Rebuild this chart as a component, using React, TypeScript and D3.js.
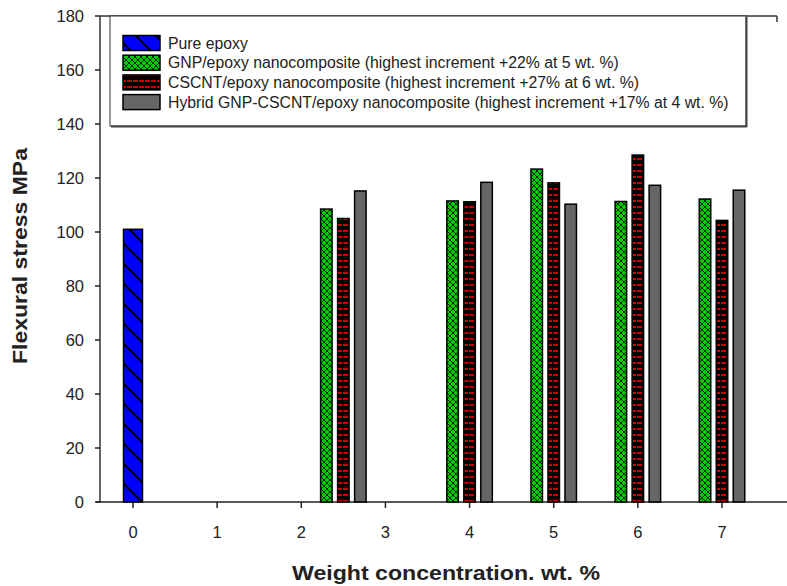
import React from "react";
import * as d3 from "d3";

const seriesNames = [
  "Pure epoxy",
  "GNP/epoxy nanocomposite (highest increment +22% at 5 wt. %)",
  "CSCNT/epoxy nanocomposite (highest increment +27% at 6 wt. %)",
  "Hybrid GNP-CSCNT/epoxy nanocomposite (highest increment +17% at 4 wt. %)",
];
const pureX = [0];
const pureValues = [101];
const groupX = [2.5, 4, 5, 6, 7];
const gnpValues = [108.5, 111.5, 123.3, 111.3, 112.2];
const cscntValues = [105, 111.2, 118.2, 128.5, 104.3];
const hybridValues = [115.2, 118.4, 110.3, 117.3, 115.5];
const xTicks = [0, 1, 2, 3, 4, 5, 6, 7];
const yTicks = [0, 20, 40, 60, 80, 100, 120, 140, 160, 180];

const W = 787;
const H = 586;
const left = 100;
const right = 777;
const top = 16;
const bottom = 502;

export default function App() {
  const x = d3.scaleLinear().domain([0, 7]).range([133, 722]);
  const y = d3.scaleLinear().domain([0, 180]).range([bottom, top]);
  const fills = ["url(#pBlue)", "url(#pGreen)", "url(#pRed)", "#666666"];
  const groupSeries = [gnpValues, cscntValues, hybridValues];
  const barW = 11.5;
  const offset = 17;
  const textColor = "#222";
  const font = "Arial, 'Liberation Sans', sans-serif";

  return (
    <svg width={W} height={H} style={{ position: "absolute", left: 0, top: 0, background: "#fff" }}>
      <defs>
        <pattern id="pBlue" patternUnits="userSpaceOnUse" width="20" height="20">
          <rect width="20" height="20" fill="#0000ff" />
          <path d="M-2,-2 L22,22 M-22,-2 L2,22 M18,-2 L42,22" stroke="#000" strokeWidth="2.2" />
        </pattern>
        <pattern id="pGreen" patternUnits="userSpaceOnUse" width="6" height="6">
          <rect width="6" height="6" fill="#00cc00" />
          <path d="M0,0 L3,3 L6,0 M0,6 L3,3 L6,6" stroke="#000" strokeWidth="1" fill="none" opacity="0.8" />
        </pattern>
        <pattern id="pRed" patternUnits="userSpaceOnUse" width="6" height="6">
          <rect width="6" height="6" fill="#000" />
          <rect x="1" y="2" width="5" height="2" fill="#cc0000" />
        </pattern>
      </defs>

      {/* frame */}
      <line x1={left} x2={right} y1={top} y2={top} stroke="#333" strokeWidth={1.5} />
      <line x1={right} x2={right} y1={top} y2={top + 6} stroke="#333" strokeWidth={1.5} />
      <line x1={left} x2={left} y1={top} y2={bottom} stroke="#333" strokeWidth={1.5} />
      <line x1={96} x2={W} y1={bottom} y2={bottom} stroke="#222" strokeWidth={1.5} />

      {/* y ticks */}
      {yTicks.map((t) => (
        <g key={"y" + t}>
          <line x1={95} x2={left} y1={y(t)} y2={y(t)} stroke="#222" strokeWidth={1.5} />
          <text x={84} y={y(t)} dy="0.35em" textAnchor="end" fontSize={16.5} fontFamily={font} fill={textColor}>
            {t}
          </text>
        </g>
      ))}
      {/* x ticks */}
      {xTicks.map((t) => (
        <g key={"x" + t}>
          <line x1={x(t)} x2={x(t)} y1={bottom} y2={bottom + 6} stroke="#222" strokeWidth={1.5} />
          <text x={x(t)} y={532} dy="0.35em" textAnchor="middle" fontSize={16.5} fontFamily={font} fill={textColor}>
            {t}
          </text>
        </g>
      ))}

      {/* bars */}
      {pureX.map((v, i) => (
        <rect key={"p" + i} x={x(v) - 9.5} width={19} y={y(pureValues[i])} height={y(0) - y(pureValues[i])}
          fill={fills[0]} stroke="#000" strokeWidth={1.5} />
      ))}
      {groupSeries.map((vals, s) =>
        groupX.map((gx, i) => (
          <rect key={"b" + s + "-" + i} x={x(gx) + (s - 1) * offset - barW / 2} width={barW}
            y={y(vals[i])} height={y(0) - y(vals[i])} fill={fills[s + 1]} stroke="#000" strokeWidth={1.5} />
        ))
      )}

      {/* legend */}
      <rect x={110} y={top} width={636} height={110} fill="#fff" stroke="#333" strokeWidth={1} />
      <line x1={111} x2={747} y1={126.5} y2={126.5} stroke="#444" strokeWidth={2} />
      <line x1={746.5} x2={746.5} y1={top + 1} y2={127} stroke="#444" strokeWidth={2} />
      {seriesNames.map((n, i) => {
        const cy = 43 + i * 19.7;
        return (
          <g key={"l" + i}>
            <rect x={123} y={cy - 7.5} width={37} height={15} fill={fills[i]} stroke="#000" strokeWidth={1.5} />
            <text x={168} y={cy} dy="0.35em" fontSize={15.8} fontFamily={font} fill={textColor}>
              {n}
            </text>
          </g>
        );
      })}

      {/* axis titles */}
      <text transform={`translate(27,256) rotate(-90)`} textAnchor="middle" fontSize={20} fontWeight="bold"
        fontFamily={font} fill={textColor} textLength={216} lengthAdjust="spacingAndGlyphs">
        Flexural stress MPa
      </text>
      <text x={446} y={573} dy="0.35em" textAnchor="middle" fontSize={20} fontWeight="bold" fontFamily={font}
        fill={textColor} textLength={308} lengthAdjust="spacingAndGlyphs">
        Weight concentration. wt. %
      </text>
    </svg>
  );
}
